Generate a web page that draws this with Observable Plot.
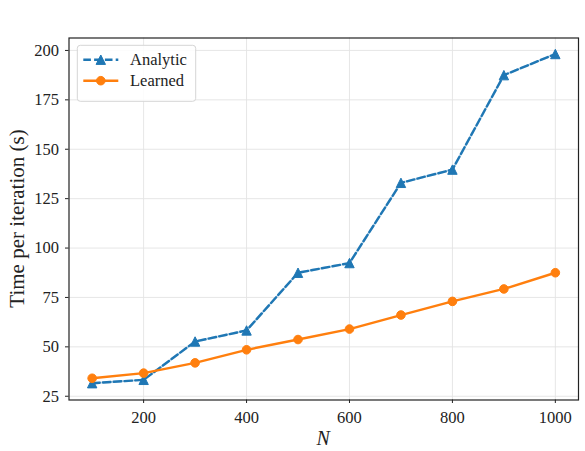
<!DOCTYPE html>
<html>
<head>
<meta charset="utf-8">
<script src="https://cdn.jsdelivr.net/npm/d3@7"></script>
<script src="https://cdn.jsdelivr.net/npm/@observablehq/plot@0.6"></script>
<style>
  html, body { margin: 0; padding: 0; background: #fff; }
  #chart svg { display: block; font-family: 'Liberation Serif', 'DejaVu Serif', serif !important; }
  #chart svg text { font-family: 'Liberation Serif', 'DejaVu Serif', serif; }
</style>
</head>
<body>
<div id="chart"></div>
<script>
const Ns = [100, 200, 300, 400, 500, 600, 700, 800, 900, 1000];
const analytic = [31.6, 33.3, 52.7, 58.3, 87.5, 92.4, 133.0, 139.7, 187.5, 198.2];
const learned = [34.1, 36.7, 41.9, 48.5, 53.7, 59.0, 66.1, 73.0, 79.3, 87.5];
const xTicks = [200, 400, 600, 800, 1000];
const yTicks = [25, 50, 75, 100, 125, 150, 175, 200];
const seriesNames = ["Analytic", "Learned"];
const xLabel = "N";
const yLabel = "Time per iteration (s)";

const blue = "#1f77b4", orange = "#ff7f0e";
const FONT = "Liberation Serif, DejaVu Serif, serif";

const dataA = Ns.map((n, i) => ({N: n, v: analytic[i]}));
const dataL = Ns.map((n, i) => ({N: n, v: learned[i]}));

const triUp = {
  draw(ctx, size) {
    const r = Math.sqrt(size / Math.PI);
    ctx.moveTo(0, -r);
    ctx.lineTo(r, r);
    ctx.lineTo(-r, r);
    ctx.closePath();
  }
};

const W = 585, H = 451;
const mL = 68.5, mR = 7, mT = 37.5, mB = 51.5;
const triR = 4.7, dotR = 4.3;

const svg = Plot.plot({
  width: W,
  height: H,
  marginLeft: mL,
  marginRight: mR,
  marginTop: mT,
  marginBottom: mB,
  style: {fontFamily: FONT, fontSize: "16px", color: "#222", background: "#fff"},
  x: {domain: [55, 1045], ticks: xTicks, label: null},
  y: {domain: [23.1, 206.3], ticks: yTicks, label: null},
  marks: [
    Plot.gridX(xTicks, {stroke: "#e3e3e3", strokeOpacity: 1, strokeWidth: 0.9}),
    Plot.gridY(yTicks, {stroke: "#e3e3e3", strokeOpacity: 1, strokeWidth: 0.9}),
    Plot.axisX({ticks: xTicks, tickSize: 3.5, tickPadding: 8, tickFormat: d => String(d), fontSize: 16.5, fontFamily: FONT, stroke: "#222"}),
    Plot.axisY({ticks: yTicks, tickSize: 3.5, tickPadding: 6.5, tickFormat: d => String(d), fontSize: 16.5, fontFamily: FONT, stroke: "#222"}),
    // Analytic
    Plot.line(dataA, {x: "N", y: "v", stroke: "#d2e3f0", strokeWidth: 2.4}),
    Plot.line(dataA, {x: "N", y: "v", stroke: blue, strokeWidth: 2.4, strokeDasharray: "7.6,3.2"}),
    Plot.dot(dataA, {x: "N", y: "v", symbol: triUp, r: triR, fill: blue, stroke: blue, strokeWidth: 1}),
    // Learned
    Plot.line(dataL, {x: "N", y: "v", stroke: orange, strokeWidth: 2.4}),
    Plot.dot(dataL, {x: "N", y: "v", r: dotR, fill: orange, stroke: orange, strokeWidth: 1}),
    Plot.frame({stroke: "#222", strokeWidth: 1.2})
  ]
});

document.getElementById("chart").appendChild(svg);

const s = d3.select(svg);
s.attr("font-family", FONT);
// Axis labels
s.append("text")
  .attr("transform", `translate(17, ${mT + (H - mT - mB) / 2}) rotate(-90)`)
  .attr("text-anchor", "middle")
  .attr("dy", "0.35em")
  .attr("font-family", FONT)
  .attr("font-size", 21)
  .attr("fill", "#222")
  .text(yLabel);
s.append("text")
  .attr("x", mL + (W - mL - mR) / 2)
  .attr("y", 445)
  .attr("text-anchor", "middle")
  .attr("font-family", FONT)
  .attr("font-style", "italic")
  .attr("font-size", 20)
  .attr("fill", "#222")
  .text(xLabel);

// Legend
const lg = s.append("g");
lg.append("rect")
  .attr("x", 77.3).attr("y", 45.3).attr("width", 118.4).attr("height", 56)
  .attr("rx", 3).attr("fill", "#fff").attr("fill-opacity", 0.85)
  .attr("stroke", "#d5d5d5").attr("stroke-width", 1);
const rows = [
  {name: seriesNames[0], y: 59.7, color: blue, dash: "7.6,3.2", sym: d3.symbol().type(triUp).size(triR * triR * Math.PI)},
  {name: seriesNames[1], y: 80.7, color: orange, dash: null, sym: null}
];
rows.forEach(r => {
  const ln = lg.append("line")
    .attr("x1", 83.3).attr("x2", 118.3).attr("y1", r.y).attr("y2", r.y)
    .attr("stroke", r.color).attr("stroke-width", 2.4);
  if (r.dash) ln.attr("stroke-dasharray", r.dash);
  if (r.sym) {
    lg.append("path").attr("d", r.sym()).attr("transform", `translate(100.8, ${r.y})`)
      .attr("fill", r.color).attr("stroke", r.color).attr("stroke-width", 1);
  } else {
    lg.append("circle").attr("cx", 100.8).attr("cy", r.y).attr("r", dotR)
      .attr("fill", r.color).attr("stroke", r.color).attr("stroke-width", 1);
  }
  lg.append("text")
    .attr("x", 130).attr("y", r.y).attr("dy", "0.35em")
    .attr("text-anchor", "start")
    .attr("font-family", FONT).attr("font-size", 16.5).attr("fill", "#222")
    .text(r.name);
});
</script>
</body>
</html>
